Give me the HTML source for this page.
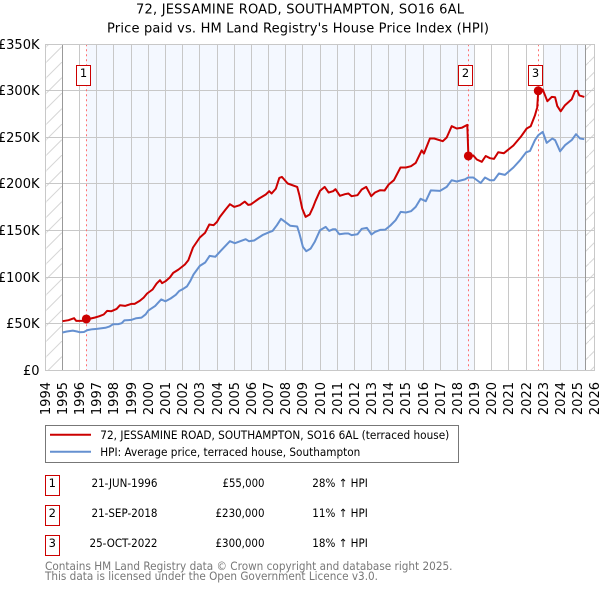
<!DOCTYPE html>
<html lang="en">
<head>
<meta charset="utf-8">
<title>72, JESSAMINE ROAD, SOUTHAMPTON, SO16 6AL</title>
<style>
html,body{margin:0;padding:0;background:#fff;width:600px;height:590px;overflow:hidden}
svg{display:block}
text{font-family:"DejaVu Sans","Liberation Sans",sans-serif;fill:#000}
</style>
</head>
<body>
<svg id="chart" xmlns="http://www.w3.org/2000/svg" width="600" height="590" viewBox="0 0 600 590">
  <defs>
    <pattern id="hatch" patternUnits="userSpaceOnUse" width="15.5" height="15.5">
      <line x1="0" y1="15.5" x2="15.5" y2="0" stroke="#d6d6d6" stroke-width="1"/>
    </pattern>
  </defs>
  <text x="300" y="13.5" font-size="13" text-anchor="middle" textLength="328" lengthAdjust="spacing">72, JESSAMINE ROAD, SOUTHAMPTON, SO16 6AL</text>
  <text x="298" y="32.5" font-size="13" text-anchor="middle" textLength="382" lengthAdjust="spacing">Price paid vs. HM Land Registry's House Price Index (HPI)</text>

  <g id="plot"></g>

  <g>
    <rect x="45.5" y="425.5" width="413" height="37" fill="#fff" stroke="#777" stroke-width="1"/>
    <line x1="50" y1="434.7" x2="91" y2="434.7" stroke="#cc0000" stroke-width="2"/>
    <text x="100.3" y="439" font-size="11.5" textLength="349" lengthAdjust="spacingAndGlyphs">72, JESSAMINE ROAD, SOUTHAMPTON, SO16 6AL (terraced house)</text>
    <line x1="50" y1="451.7" x2="91" y2="451.7" stroke="#6590d0" stroke-width="2"/>
    <text x="100.3" y="456" font-size="11.5" textLength="260" lengthAdjust="spacingAndGlyphs">HPI: Average price, terraced house, Southampton</text>
  </g>

  <g>
    <g>
      <rect x="45.5" y="475.5" width="14" height="20" fill="#fff" stroke="#cc0000"/>
      <text x="52.3" y="487" font-size="11.5" text-anchor="middle">1</text>
      <text x="157.5" y="487" font-size="11.5" text-anchor="end" textLength="66" lengthAdjust="spacingAndGlyphs">21-JUN-1996</text>
      <text x="264.5" y="487" font-size="11.5" text-anchor="end" textLength="42" lengthAdjust="spacingAndGlyphs">£55,000</text>
      <text x="312.3" y="487" font-size="11.5" textLength="55.5" lengthAdjust="spacingAndGlyphs">28% ↑ HPI</text>
    </g>
    <g>
      <rect x="45.5" y="505.5" width="14" height="20" fill="#fff" stroke="#cc0000"/>
      <text x="52.3" y="517" font-size="11.5" text-anchor="middle">2</text>
      <text x="157.5" y="517" font-size="11.5" text-anchor="end" textLength="66" lengthAdjust="spacingAndGlyphs">21-SEP-2018</text>
      <text x="264.5" y="517" font-size="11.5" text-anchor="end" textLength="49" lengthAdjust="spacingAndGlyphs">£230,000</text>
      <text x="312.3" y="517" font-size="11.5" textLength="55.5" lengthAdjust="spacingAndGlyphs">11% ↑ HPI</text>
    </g>
    <g>
      <rect x="45.5" y="535.5" width="14" height="20" fill="#fff" stroke="#cc0000"/>
      <text x="52.3" y="547" font-size="11.5" text-anchor="middle">3</text>
      <text x="157.5" y="547" font-size="11.5" text-anchor="end" textLength="68" lengthAdjust="spacingAndGlyphs">25-OCT-2022</text>
      <text x="264.5" y="547" font-size="11.5" text-anchor="end" textLength="49" lengthAdjust="spacingAndGlyphs">£300,000</text>
      <text x="312.3" y="547" font-size="11.5" textLength="55.5" lengthAdjust="spacingAndGlyphs">18% ↑ HPI</text>
    </g>
  </g>

  <text x="45" y="570" font-size="11.5" style="fill:#777" textLength="407.5" lengthAdjust="spacingAndGlyphs">Contains HM Land Registry data © Crown copyright and database right 2025.</text>
  <text x="45" y="580" font-size="11.5" style="fill:#777" textLength="333" lengthAdjust="spacingAndGlyphs">This data is licensed under the Open Government Licence v3.0.</text>
</svg>

<script>
const yearTicks = [1994,1995,1996,1997,1998,1999,2000,2001,2002,2003,2004,2005,2006,2007,2008,2009,2010,2011,2012,2013,2014,2015,2016,2017,2018,2019,2020,2021,2022,2023,2024,2025,2026];
const valueTicks = [0,50,100,150,200,250,300,350];
const valueTickLabels = ['£0','£50K','£100K','£150K','£200K','£250K','£300K','£350K'];

const priceDates = [1995,1995.35,1995.68,1995.8,1996,1996.25,1996.39,1996.65,1996.9,1997.15,1997.4,1997.6,1997.85,1998.15,1998.35,1998.65,1999,1999.2,1999.5,1999.73,1999.93,2000.25,2000.48,2000.68,2000.8,2001,2001.25,2001.45,2001.75,2002.13,2002.33,2002.6,2003,2003.3,2003.55,2003.8,2004,2004.17,2004.5,2004.75,2005,2005.33,2005.62,2005.82,2005.96,2006.45,2006.84,2007.04,2007.18,2007.43,2007.63,2007.78,2008.12,2008.67,2008.8,2008.96,2009.16,2009.4,2009.6,2009.73,2010,2010.27,2010.5,2010.76,2010.9,2011.16,2011.45,2011.65,2011.84,2012.18,2012.43,2012.69,2012.98,2013.2,2013.5,2013.76,2014,2014.3,2014.69,2015,2015.3,2015.57,2015.92,2016.05,2016.4,2016.65,2017.15,2017.38,2017.67,2017.96,2018.25,2018.58,2018.64,2018.93,2019.13,2019.42,2019.65,2019.9,2020.13,2020.38,2020.71,2021.26,2021.69,2022.04,2022.27,2022.52,2022.65,2022.71,2022.97,2023.24,2023.5,2023.69,2023.82,2024.02,2024.27,2024.66,2024.85,2024.99,2025.1,2025.39];
const priceValues = [52.6,53.7,55.8,52.9,52.9,53,55,55.5,56.6,58,59.8,63.7,63.3,65.8,69.8,69,71.2,71.2,74.4,78,82.3,86.6,93,96.6,93.4,95.6,99.5,104.5,108,113.5,118,131.7,142.5,147.4,156.4,155.7,159.2,164.6,172.5,178.2,175.3,177.2,181,177.5,177.9,184.3,188.6,192.2,189.7,195,206.5,207.5,200.4,196.8,187.9,173.6,164.6,167.2,175.3,181.4,192.5,196.8,190.8,192.2,194.3,187.2,189,189.7,186.8,187.9,194,196.8,186.8,190.8,193.3,192.9,199.4,204,217.6,217.6,219,222.6,236,232.6,248.8,248.8,245.9,249.8,262,259.5,260.2,263.4,230,230.5,226.2,223.7,230,227.6,226.9,234,233,241.3,250.5,259.5,262,273.8,282,300,301.4,288.8,293.4,293,283.5,278,284.5,291,299.6,300,295,293.4];

const hpiDates = [1995,1995.25,1995.6,1995.85,1996,1996.25,1996.45,1996.75,1997,1997.5,1997.75,1997.95,1998.25,1998.45,1998.6,1999,1999.3,1999.6,1999.85,2000,2000.4,2000.55,2000.75,2001,2001.3,2001.6,2001.8,2002,2002.25,2002.45,2002.63,2003,2003.31,2003.57,2003.9,2004.2,2004.75,2005.04,2005.67,2005.86,2006.16,2006.65,2007.04,2007.24,2007.49,2007.73,2008.02,2008.27,2008.67,2008.8,2009,2009.2,2009.45,2009.69,2010,2010.33,2010.53,2010.76,2010.9,2011.12,2011.45,2011.65,2011.84,2012.18,2012.43,2012.73,2013,2013.2,2013.5,2013.8,2014.1,2014.4,2014.7,2015,2015.3,2015.57,2015.86,2016.16,2016.45,2016.99,2017.38,2017.67,2017.96,2018.44,2018.63,2018.93,2019.36,2019.61,2019.9,2020.13,2020.42,2020.77,2021.26,2021.65,2022,2022.23,2022.52,2022.71,2022.97,2023.2,2023.53,2023.69,2023.98,2024.27,2024.66,2024.91,2025.14,2025.39];
const hpiValues = [40.5,41.5,42.5,41.5,40.8,41,43,44,44.3,45.5,47,49.4,49.5,50.5,53.5,54,55.8,56.5,60,64,69,72,76,74,77,81,85,87,90,96,102.7,112,115.6,122.7,121.7,127.8,138.5,136.4,140.7,138.5,139.2,145,148.2,149.6,155.7,162.5,158.5,155,154.3,146.8,132.4,127.8,130.6,137.8,150.3,153.9,149.6,151.4,151.4,146,146.8,146.8,145,146,151.7,152.8,145.7,148.5,150.6,151,155.4,161,170,169.3,170.7,175.3,184,181.4,193,192.5,196.8,204,202.6,204.8,206.9,206.9,201,206.9,204,204,211.2,209.7,217.6,225.5,234,235.5,247,252.3,255.9,244,248.8,247,235,241.6,247,253.4,248.8,248];

const saleDates = [1996.39,2018.64,2022.71];
const salePrices = [55,230,300];
const saleLabels = ['1','2','3'];
const shadedRanges = [[1996.39,2019],[2023,2025.48]];
const dataStartYear = 1995;
const dataEndYear = 2025.48;

const NS = 'http://www.w3.org/2000/svg';
const plot = document.getElementById('plot');
function xScale(year){ return 45.3 + (year - 1994) * 17.17; }
function yScale(value){ return 370.2 - value * 0.9314; }
function snap(p){ return Math.floor(p) + 0.5; }
function make(tag, attrs){
  const el = document.createElementNS(NS, tag);
  for (const k in attrs) el.setAttribute(k, attrs[k]);
  plot.appendChild(el);
  return el;
}
const left = xScale(1994), right = xScale(2026), top_ = yScale(350), bottom = yScale(0);

const hatchLeft = make('rect', {x:left, y:top_, width:xScale(dataStartYear)-left, height:bottom-top_, fill:'url(#hatch)'});


const hatchRight = make('rect', {x:xScale(dataEndYear), y:top_, width:right-xScale(dataEndYear), height:bottom-top_, fill:'url(#hatch)'});



shadedRanges.forEach(function(r){
  const band = make('rect', {x:xScale(r[0]), y:top_, width:xScale(r[1])-xScale(r[0]), height:bottom-top_, fill:'#f4f8ff'});
  
  
});

yearTicks.forEach(function(year){
  const px = snap(xScale(year));
  const grid = make('line', {x1:px, y1:top_, x2:px, y2:bottom, stroke:'#c8c8c8', 'stroke-width':1});
  
  
  const label = make('text', {transform:'translate(' + (px + 4.5) + ',382) rotate(-90)', 'font-size':13, 'text-anchor':'end'});
  label.textContent = String(year);
  
  
});

valueTicks.forEach(function(value, i){
  const py = snap(yScale(value));
  const grid = make('line', {x1:left, y1:py, x2:right, y2:py, stroke:'#c8c8c8', 'stroke-width':1});
  
  
  const label = make('text', {x:39.5, y:py + 4.5, 'font-size':13, 'text-anchor':'end'});
  label.textContent = valueTickLabels[i];
  
  
});

const edgeStart = make('line', {x1:snap(xScale(dataStartYear)), y1:top_, x2:snap(xScale(dataStartYear)), y2:bottom, stroke:'#999', 'stroke-width':1});


const edgeEnd = make('line', {x1:snap(xScale(dataEndYear)), y1:top_, x2:snap(xScale(dataEndYear)), y2:bottom, stroke:'#999', 'stroke-width':1});



saleDates.forEach(function(date){
  const px = snap(xScale(date));
  const marker = make('line', {x1:px, y1:top_, x2:px, y2:bottom, stroke:'#ff7070', 'stroke-width':1, 'stroke-dasharray':'2 3'});
  
  
});

function linePoints(dates, values){
  return dates.map(function(d, i){ return xScale(d).toFixed(1) + ',' + yScale(values[i]).toFixed(1); }).join(' ');
}
const hpiLine = make('polyline', {points:linePoints(hpiDates, hpiValues), fill:'none', stroke:'#6590d0', 'stroke-width':2, 'stroke-linejoin':'round'});


const priceLine = make('polyline', {points:linePoints(priceDates, priceValues), fill:'none', stroke:'#cc0000', 'stroke-width':2, 'stroke-linejoin':'round'});



saleDates.forEach(function(date, i){
  const dot = make('circle', {cx:xScale(date), cy:yScale(salePrices[i]), r:4.5, fill:'#cc0000'});
  
  
  const px = snap(xScale(date));
  const box = make('rect', {x:px - 10, y:65.5, width:14, height:20, fill:'#fff', stroke:'#cc0000', 'stroke-width':1});
  
  
  const flagText = make('text', {x:px - 3, y:77, 'font-size':11.5, 'text-anchor':'middle'});
  flagText.textContent = saleLabels[i];
  
  
});

const frame = make('rect', {x:snap(left), y:snap(top_), width:snap(right)-snap(left), height:snap(bottom)-snap(top_), fill:'none', stroke:'#c8c8c8', 'stroke-width':1});


</script>
</body>
</html>
